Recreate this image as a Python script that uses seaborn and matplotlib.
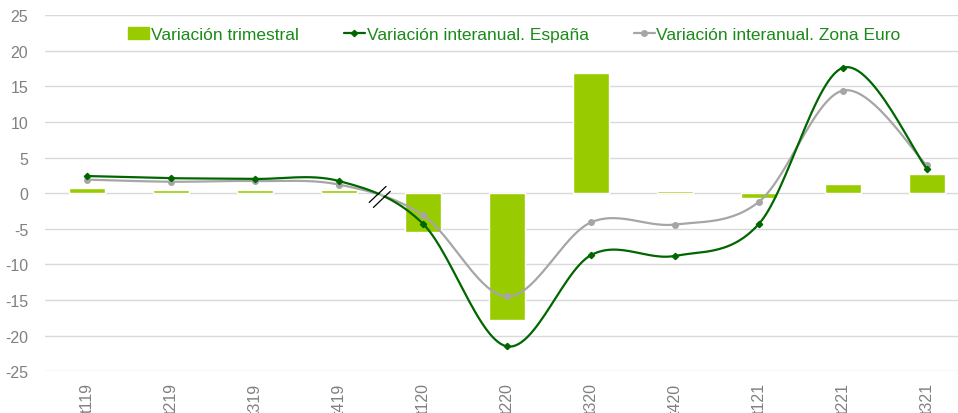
import matplotlib
matplotlib.use("Agg")
import matplotlib.pyplot as plt
import numpy as np
import pandas as pd
import seaborn as sns
from matplotlib.lines import Line2D
from matplotlib.patches import Patch

trimestres = ["t119", "t219", "t319", "t419", "t120", "t220",
              "t320", "t420", "t121", "t221", "t321"]
var_trimestral = [0.7, 0.5, 0.5, 0.5, -5.4, -17.8, 16.8, 0.3, -0.7, 1.3, 2.7]
interanual_espana = [2.4, 2.1, 2.0, 1.7, -4.3, -21.5, -8.7, -8.8, -4.3, 17.6, 3.4]
interanual_euro = [1.9, 1.6, 1.7, 1.2, -3.1, -14.5, -4.1, -4.4, -1.2, 14.4, 3.9]

BAR = "#99CC00"
ESP = "#006600"
EURO = "#A6A6A6"
TXT = "#1A8A1A"
GREY = "#808080"


def smooth(y, n=30):
    # Excel-style smoothed line (Catmull-Rom -> cubic Bezier)
    x = np.arange(len(y), dtype=float)
    p = np.column_stack([x, np.asarray(y, dtype=float)])
    p = np.vstack([p[0], p, p[-1]])
    t = np.linspace(0, 1, n)[:, None]
    out = []
    for i in range(1, len(p) - 2):
        p0, p1, p2, p3 = p[i - 1], p[i], p[i + 1], p[i + 2]
        c1 = p1 + (p2 - p0) / 6
        c2 = p2 - (p3 - p1) / 6
        seg = ((1 - t) ** 3) * p1 + 3 * ((1 - t) ** 2) * t * c1 \
            + 3 * (1 - t) * t ** 2 * c2 + t ** 3 * p2
        out.append(seg)
    out = np.vstack(out)
    return out[:, 0], out[:, 1]


sns.set_style("white")
plt.rcParams["font.family"] = ["Liberation Sans", "DejaVu Sans"]
plt.rcParams["axes.unicode_minus"] = False

fig = plt.figure(figsize=(9.58, 4.14), dpi=100)
ax = fig.add_axes([45 / 958, 0.1007, 924 / 958, 0.8607])

df = pd.DataFrame({"trimestre": trimestres, "valor": var_trimestral})
sns.barplot(data=df, x="trimestre", y="valor", color=BAR, width=0.42,
            saturation=1, ax=ax, zorder=2)

xs, ys = smooth(interanual_espana)
ax.plot(xs, ys, color=ESP, lw=1.6, zorder=4)
ax.plot(range(len(trimestres)), interanual_espana, ls="none", marker="D",
        ms=3.2, color=ESP, zorder=5)

xs, ys = smooth(interanual_euro)
ax.plot(xs, ys, color=EURO, lw=1.6, zorder=3)
ax.plot(range(len(trimestres)), interanual_euro, ls="none", marker="o",
        ms=4, color=EURO, zorder=3)

# break marks
ax.plot([3.385, 3.585], [-1.65, 0.6], color="white", lw=3, alpha=0.6,
        zorder=6)
for cx, cy in [(3.46, -0.18), (3.51, -0.88)]:
    ax.plot([cx - 0.1, cx + 0.1], [cy - 1.12, cy + 1.12], color="black",
            lw=0.9, zorder=7)

ax.set_ylim(-25, 25)
ax.set_xlim(-0.5, 10.5)
ax.set_yticks(range(-25, 30, 5))
ax.grid(axis="y", color="#D9D9D9", lw=1.0, zorder=0)
ax.set_axisbelow(True)
for s in ax.spines.values():
    s.set_visible(False)
ax.set_xlabel("")
ax.set_ylabel("")
ax.tick_params(axis="both", length=0, colors=GREY, labelsize=11.5)
ax.tick_params(axis="x", rotation=90, pad=8)
ax.tick_params(axis="y", pad=12)

handles = [
    Patch(color=BAR),
    Line2D([], [], color=ESP, lw=1.6, marker="D", ms=3.2),
    Line2D([], [], color=EURO, lw=1.6, marker="o", ms=4),
]
labels = ["Variación trimestral", "Variación interanual. España",
          "Variación interanual. Zona Euro"]
leg = fig.legend(handles, labels, loc="center", ncol=3,
                 bbox_to_anchor=(0.537, 0.914), frameon=False,
                 fontsize=12.5, handlelength=1.2, handletextpad=0.1,
                 columnspacing=2.6)
for t in leg.get_texts():
    t.set_color(TXT)

fig.savefig("out.png", dpi=100)
plt.close(fig)
